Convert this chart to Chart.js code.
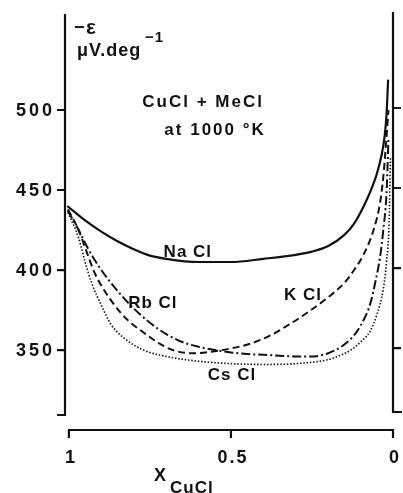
<!DOCTYPE html>
<html>
<head>
<meta charset="utf-8">
<script src="https://cdn.jsdelivr.net/npm/chart.js@4.4.1/dist/chart.umd.min.js"></script>
<style>
  html, body { margin: 0; padding: 0; background: #fff; }
  #wrap { width: 403px; height: 493px; }
</style>
</head>
<body>
<div id="wrap"><canvas id="chart" width="403" height="493"></canvas></div>
<script>
// X_CuCl (1 -> 0) and -epsilon (uV/deg) per melt
const xNaCl = [1.005, 0.95, 0.9, 0.85, 0.8, 0.75, 0.7, 0.6, 0.5, 0.4, 0.3, 0.25, 0.2, 0.15, 0.12, 0.09, 0.07, 0.05, 0.035, 0.025, 0.02, 0.015];
const yNaCl = [440, 431, 424, 418, 413, 409, 407, 405, 405, 407, 409.5, 411.5, 415, 422, 429, 440, 449, 460, 472, 485, 497, 519];

const xRbCl = [1.003, 0.97, 0.94, 0.9, 0.85, 0.8, 0.75, 0.7, 0.65, 0.6, 0.55, 0.5, 0.45, 0.4, 0.3, 0.25, 0.2, 0.16, 0.13, 0.11, 0.09, 0.07, 0.055, 0.04, 0.03, 0.02, 0.014];
const yRbCl = [437, 425, 413, 400, 387, 376, 367, 360, 355, 352, 350, 348.5, 347.5, 347, 346, 346, 348, 352, 357, 362, 369, 379, 392, 408, 425, 448, 482];

const xKCl = [1.003, 0.97, 0.95, 0.92, 0.87, 0.82, 0.77, 0.72, 0.68, 0.62, 0.56, 0.5, 0.44, 0.38, 0.32, 0.26, 0.2, 0.15, 0.12, 0.09, 0.06, 0.04, 0.03, 0.02, 0.014];
const yKCl = [438, 425, 414, 398, 381, 369, 361, 354, 350, 348, 349, 351, 354, 359, 366, 374, 383, 392, 400, 410, 425, 442, 458, 483, 500];

const xCsCl = [1.003, 0.97, 0.95, 0.93, 0.9, 0.87, 0.82, 0.77, 0.7, 0.6, 0.5, 0.4, 0.3, 0.2, 0.17, 0.13, 0.1, 0.07, 0.05, 0.03, 0.02, 0.012, 0.008];
const yCsCl = [436, 420, 405, 392, 378, 366, 356, 350, 346, 343, 341.5, 341, 341.5, 344, 346, 350, 355, 362, 372, 388, 405, 430, 470];

const yTicks = [350, 400, 450, 500];
const xTicks = [1, 0.5, 0];
const xTickLabels = ['1', '0.5', '0'];

// curve labels: text, X, value
const curveLabels = [
    ['Na Cl', 0.633, 411],
    ['Rb Cl', 0.741, 379],
    ['K Cl', 0.278, 384],
    ['Cs Cl', 0.497, 334]
];

const pts = (xs, ys) => xs.map((x, i) => ({x: x, y: ys[i]}));

// 軸と文字を手描き
const framePlugin = {
    id: 'frame',
    afterDraw(chart) {
        const ctx = chart.ctx;
        const xs = chart.scales.x, ys = chart.scales.y;
        const top = ys.getPixelForValue(560), bottom = ys.getPixelForValue(309.4);
        const left = xs.left, right = xs.right;
        ctx.save();
        ctx.strokeStyle = '#111';
        ctx.fillStyle = '#111';
        ctx.lineWidth = 2.2;
        ctx.lineCap = 'butt';

        // left y axis
        ctx.beginPath();
        ctx.moveTo(left, top); ctx.lineTo(left, bottom);
        ctx.moveTo(left - 8, bottom); ctx.lineTo(left + 1, bottom);
        yTicks.forEach(v => {
            const py = ys.getPixelForValue(v);
            ctx.moveTo(left - 8, py); ctx.lineTo(left, py);
        });
        // right y axis
        ctx.moveTo(right, top - 2); ctx.lineTo(right, bottom - 3);
        ctx.moveTo(right - 1, bottom - 3); ctx.lineTo(right + 9, bottom - 3);
        yTicks.forEach(v => {
            const py = ys.getPixelForValue(v) - 2;
            ctx.moveTo(right, py); ctx.lineTo(right + 8, py);
        });
        // x axis
        const ax = 430;
        ctx.moveTo(xs.getPixelForValue(1), ax); ctx.lineTo(xs.getPixelForValue(0), ax);
        xTicks.forEach(v => {
            const px = xs.getPixelForValue(v);
            ctx.moveTo(px, ax - 1); ctx.lineTo(px, ax + 8);
        });
        ctx.stroke();

        // tick labels
        ctx.font = 'bold 18px "Liberation Sans", Arial, sans-serif';
        ctx.letterSpacing = '3px';
        ctx.textAlign = 'right';
        ctx.textBaseline = 'middle';
        yTicks.forEach(v => ctx.fillText(String(v), 55, ys.getPixelForValue(v) + 1));
        ctx.textAlign = 'center';
        ctx.textBaseline = 'alphabetic';
        ctx.letterSpacing = '2px';
        xTicks.forEach((v, i) => ctx.fillText(xTickLabels[i], xs.getPixelForValue(v) + 2, 463));

        // curve labels
        ctx.font = 'bold 17px "Liberation Sans", Arial, sans-serif';
        ctx.letterSpacing = '1px';
        ctx.textBaseline = 'middle';
        curveLabels.forEach(l => ctx.fillText(l[0], xs.getPixelForValue(l[1]), ys.getPixelForValue(l[2])));

        // system / temperature
        ctx.letterSpacing = '2px';
        ctx.fillText('CuCl + MeCl', xs.getPixelForValue(0.586), ys.getPixelForValue(505));
        ctx.fillText('at 1000 \u00B0K', xs.getPixelForValue(0.549), ys.getPixelForValue(487.5));

        // y title
        ctx.textAlign = 'left';
        ctx.textBaseline = 'alphabetic';
        ctx.letterSpacing = '1px';
        ctx.font = 'bold 18px "Liberation Sans", Arial, sans-serif';
        ctx.fillText('\u2212', 74, 33);
        ctx.font = 'bold 21px "Liberation Sans", Arial, sans-serif';
        ctx.fillText('\u03B5', 86, 34);
        ctx.font = 'bold 18px "Liberation Sans", Arial, sans-serif';
        ctx.fillText('\u03BCV.deg', 77, 56);
        ctx.font = 'bold 15px "Liberation Sans", Arial, sans-serif';
        ctx.fillText('\u22121', 145, 42);

        // x title
        ctx.font = 'bold 18px "Liberation Sans", Arial, sans-serif';
        ctx.fillText('X', 154, 481);
        ctx.font = 'bold 17px "Liberation Sans", Arial, sans-serif';
        ctx.fillText('CuCl', 170, 493);
        ctx.restore();
    }
};

const base = {
    borderColor: '#111',
    backgroundColor: '#111',
    pointRadius: 0,
    fill: false,
    cubicInterpolationMode: 'monotone'
};

new Chart(document.getElementById('chart').getContext('2d'), {
    type: 'line',
    data: {
        datasets: [
            Object.assign({}, base, {label: 'NaCl', data: pts(xNaCl, yNaCl), borderWidth: 2.2}),
            Object.assign({}, base, {label: 'RbCl', data: pts(xRbCl, yRbCl), borderWidth: 2, borderDash: [9, 3, 2, 3]}),
            Object.assign({}, base, {label: 'KCl', data: pts(xKCl, yKCl), borderWidth: 2, borderDash: [7, 4]}),
            Object.assign({}, base, {label: 'CsCl', data: pts(xCsCl, yCsCl), borderWidth: 1.6, borderDash: [1.5, 1.8]})
        ]
    },
    options: {
        responsive: false,
        animation: false,
        layout: {padding: {left: 65, right: 10, top: 14, bottom: 78}},
        plugins: {legend: {display: false}, tooltip: {enabled: false}},
        scales: {
            x: {type: 'linear', reverse: true, min: 0, max: 1.012, display: false},
            y: {type: 'linear', min: 309.4, max: 560, display: false}
        }
    },
    plugins: [framePlugin]
});
</script>
</body>
</html>
